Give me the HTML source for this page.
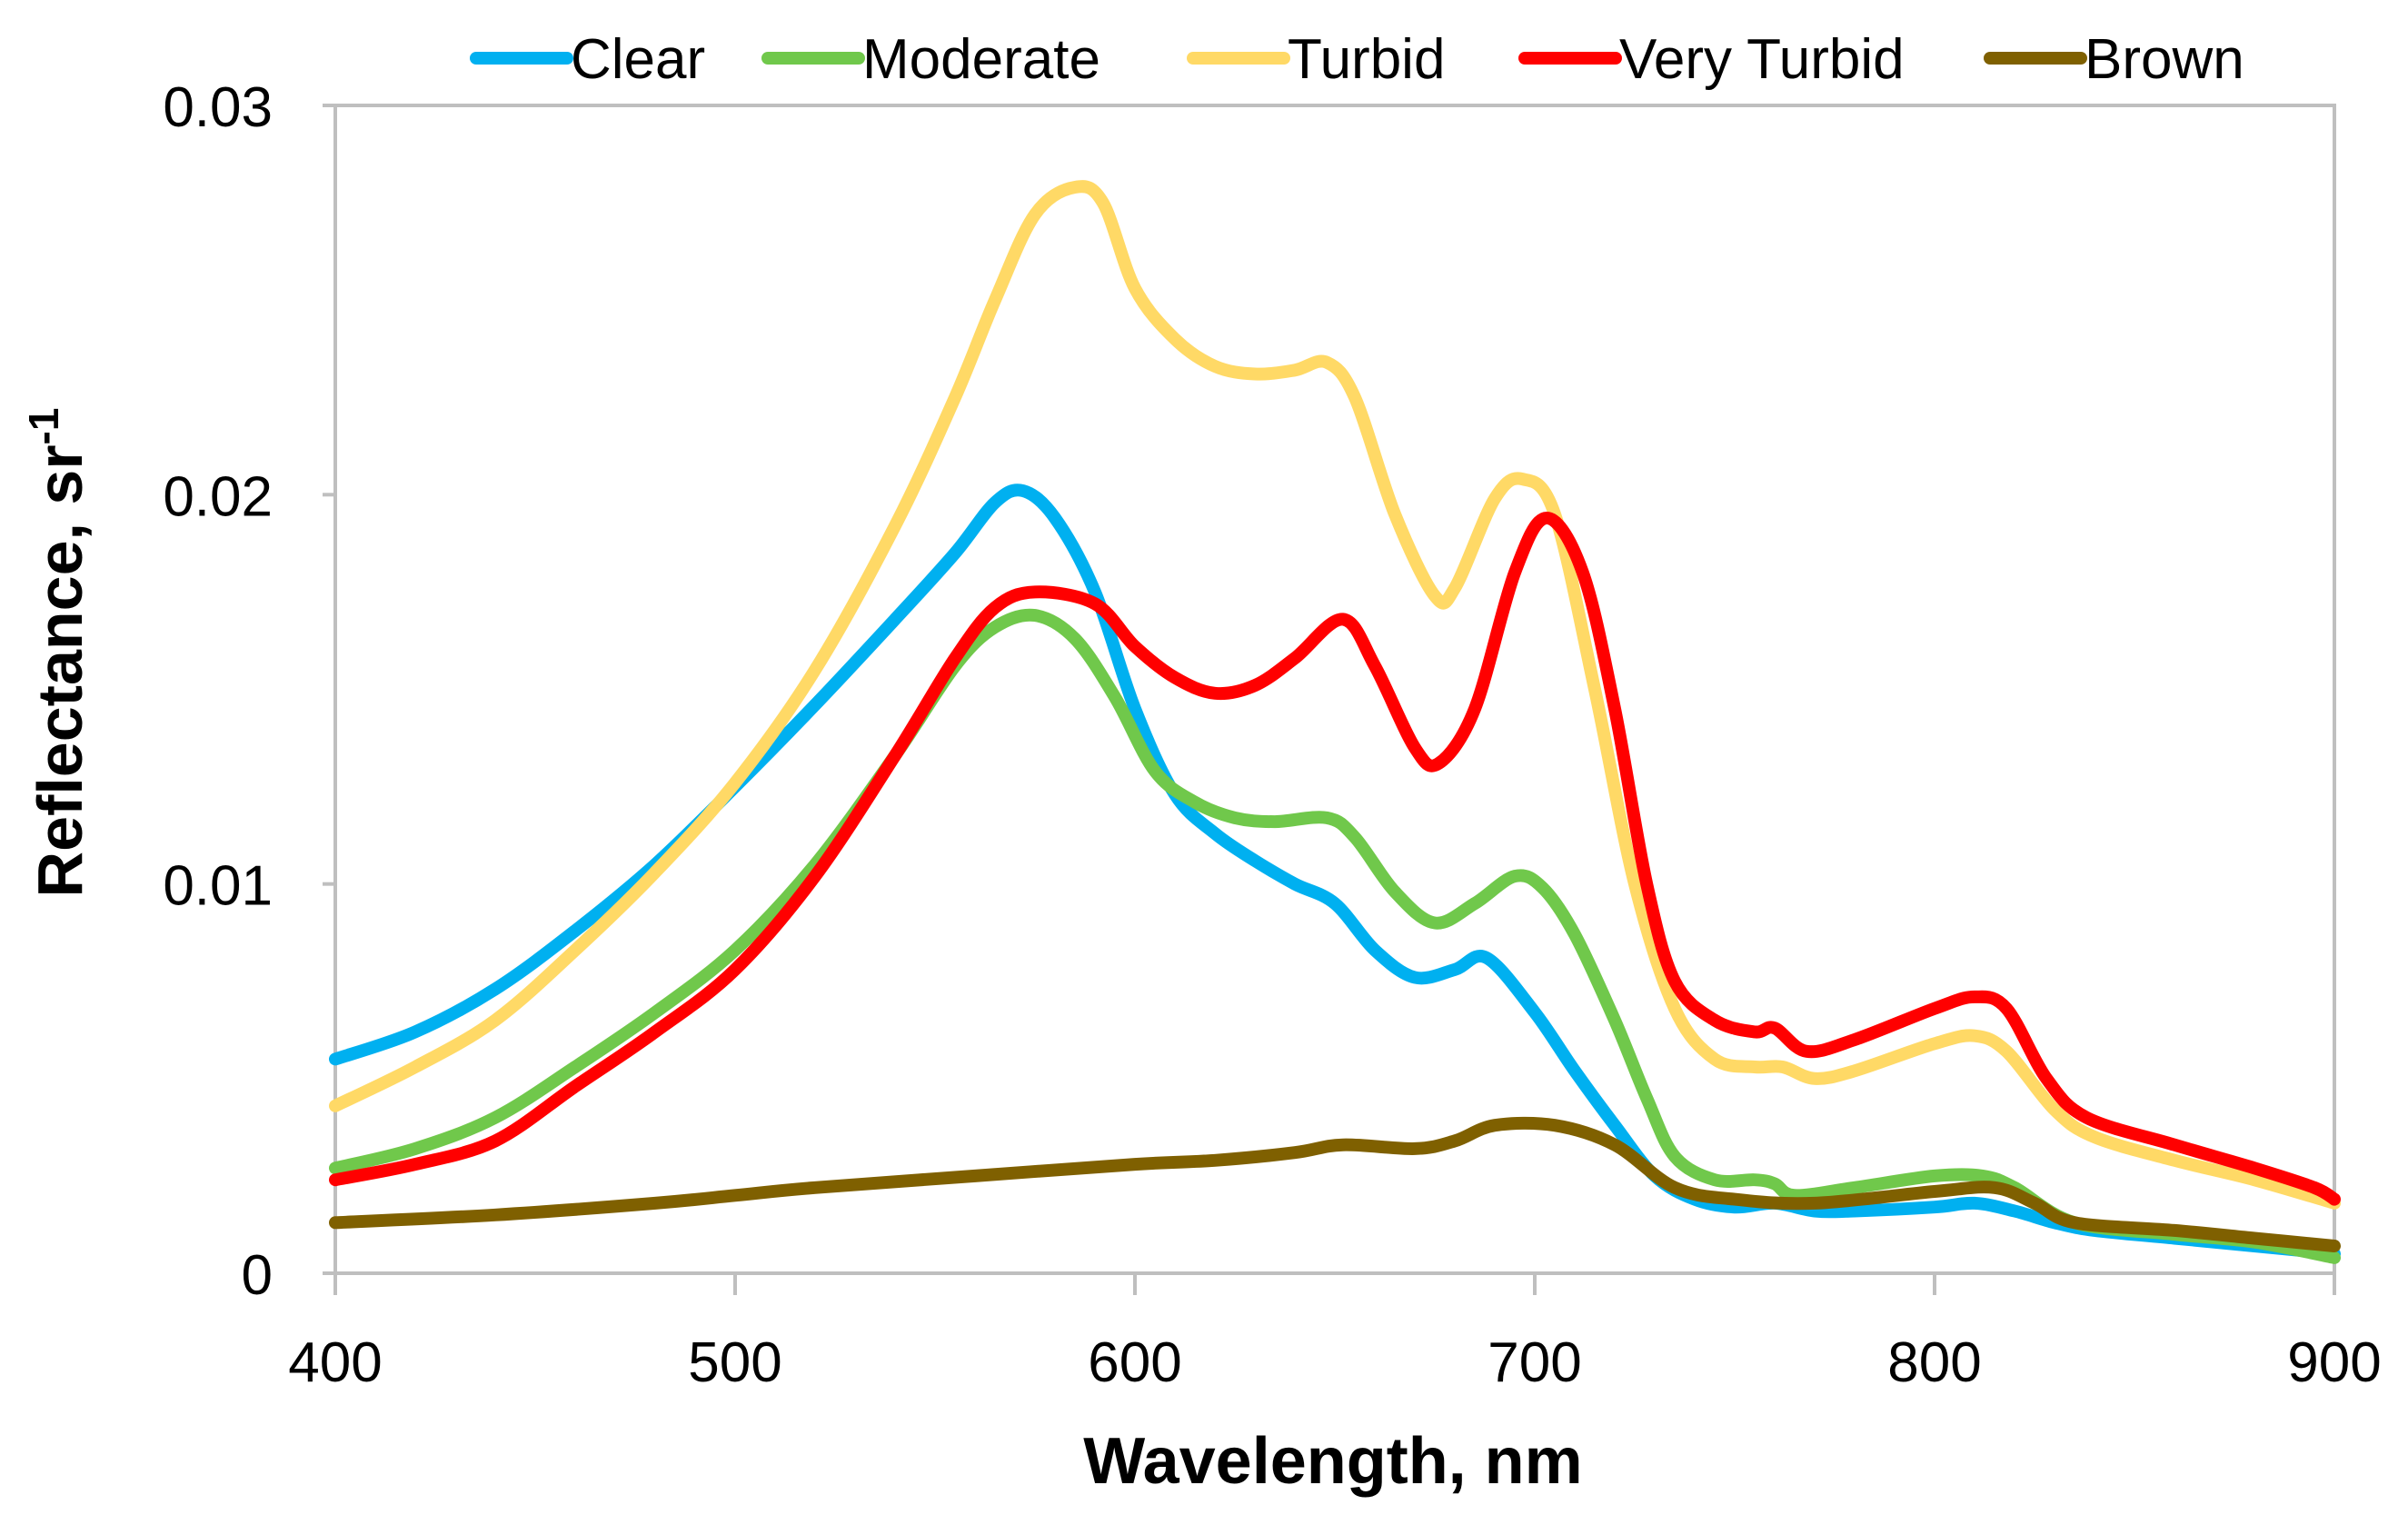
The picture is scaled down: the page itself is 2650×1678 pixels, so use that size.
<!DOCTYPE html>
<html><head><meta charset="utf-8"><style>
html,body{margin:0;padding:0;background:#fff;width:2650px;height:1678px;overflow:hidden}
svg text{font-family:"Liberation Sans",sans-serif;fill:#000}
</style></head><body>
<svg id="chart" width="2650" height="1678" viewBox="0 0 2650 1678" xmlns="http://www.w3.org/2000/svg"></svg>
<script>
const xTicks=[400,500,600,700,800,900];
const yTicks=[0,0.01,0.02,0.03];
const yTickLabels=["0","0.01","0.02","0.03"];
const seriesNames=["Clear","Moderate","Turbid","Very Turbid","Brown"];
const seriesColors=["#00b0f0","#70c84b","#ffd966","#ff0000","#7f6000"];
const clearWl=[400,420,440,460,480,500,520,540,555,565,572,580,590,600,610,620,630,640,650,660,670,680,688,700,710,720,730,740,750,760,770,780,800,810,820,830,840,860,880,900];
const clearVal=[5.5,6.2,7.3,8.8,10.5,12.5,14.6,16.8,18.5,19.8,20.1,19.4,17.5,14.5,12.3,11.3,10.6,10.0,9.5,8.3,7.6,7.8,8.1,6.7,5.2,3.8,2.5,1.9,1.7,1.8,1.6,1.6,1.7,1.8,1.6,1.3,1.1,0.9,0.7,0.5];
const modWl=[400,420,440,460,480,500,520,540,555,565,575,585,595,605,615,625,635,648,655,665,675,685,695,702,710,720,728,735,745,755,760,765,780,800,812,820,835,860,880,900];
const modVal=[2.7,3.2,4.0,5.3,6.7,8.3,10.5,13.3,15.6,16.6,16.9,16.3,14.8,12.9,12.1,11.7,11.6,11.7,11.2,9.8,9.0,9.5,10.2,9.9,8.7,6.5,4.5,3.0,2.4,2.4,2.3,2.0,2.2,2.5,2.5,2.2,1.3,1.0,0.8,0.4];
const turbWl=[400,420,440,460,480,500,520,540,555,565,575,585,592,600,610,620,630,640,648,655,665,675,680,690,697,705,715,725,735,745,755,762,770,780,800,810,818,830,840,860,880,900];
const turbVal=[4.3,5.3,6.5,8.3,10.3,12.6,15.5,19.2,22.5,25.0,27.2,27.9,27.5,25.3,24.0,23.3,23.1,23.2,23.4,22.5,19.5,17.4,17.6,19.9,20.4,19.5,15.0,10.0,6.8,5.5,5.3,5.3,5.0,5.2,5.9,6.1,5.7,4.2,3.5,2.9,2.4,1.8];
const vtWl=[400,420,440,460,480,500,520,540,555,565,575,590,600,610,620,630,640,652,660,670,676,685,695,703,712,720,728,735,745,755,760,768,780,800,810,818,828,838,860,880,895,900];
const vtVal=[2.4,2.8,3.4,4.8,6.2,7.8,10.2,13.3,15.8,17.1,17.5,17.2,16.1,15.3,14.9,15.1,15.8,16.8,15.6,13.5,13.1,14.5,18.0,19.4,18.0,14.5,10.0,7.5,6.5,6.2,6.3,5.7,6.0,6.8,7.1,6.8,5.0,4.0,3.3,2.7,2.2,1.9];
const brWl=[400,440,480,500,520,560,600,620,640,652,670,680,690,705,720,735,750,770,800,815,825,835,860,880,900];
const brVal=[1.3,1.5,1.8,2.0,2.2,2.5,2.8,2.9,3.1,3.3,3.2,3.4,3.8,3.8,3.3,2.2,1.9,1.8,2.1,2.2,1.8,1.3,1.1,0.9,0.7];
const seriesWl=[clearWl,modWl,turbWl,vtWl,brWl];
const seriesVal=[clearVal,modVal,turbVal,vtVal,brVal];

const L=369,R=2569,T=116,B=1401;
const xS=v=>L+(v-400)/500*(R-L);
const yS=v=>B-v/0.03*(B-T);
const NS="http://www.w3.org/2000/svg";
const svg=document.getElementById('chart');
function mk(tag,attrs,parent){const e=document.createElementNS(NS,tag);for(const k in attrs)e.setAttribute(k,attrs[k]);(parent||svg).appendChild(e);return e;}

const frame=mk('rect',{x:L,y:T,width:R-L,height:B-T,fill:'none',stroke:'#bfbfbf','stroke-width':4});



yTicks.forEach((v,i)=>{
  const t=mk('line',{x1:L-14,x2:L,y1:yS(v),y2:yS(v),stroke:'#bfbfbf','stroke-width':4});
  
  
  const tx=mk('text',{x:300,y:yS(v)+23,'text-anchor':'end','font-size':62});
  tx.textContent=yTickLabels[i];
  
  
});
xTicks.forEach(v=>{
  const t=mk('line',{x1:xS(v),x2:xS(v),y1:B,y2:B+24,stroke:'#bfbfbf','stroke-width':4});
  
  
  const tx=mk('text',{x:xS(v),y:1520,'text-anchor':'middle','font-size':62});
  tx.textContent=String(v);
  
  
});

const xt=mk('text',{x:1467,y:1632,'text-anchor':'middle','font-size':72,'font-weight':'bold'});
xt.textContent='Wavelength, nm';



const yt=mk('text',{x:0,y:0,'text-anchor':'middle','font-size':70,'font-weight':'bold',transform:'translate(90,718) rotate(-90)'});
yt.innerHTML='Reflectance, sr<tspan dy="-26" font-size="46">-1</tspan>';



function smoothPath(pts){
  let d='M'+pts[0][0].toFixed(1)+' '+pts[0][1].toFixed(1);
  for(let i=0;i<pts.length-1;i++){
    const p0=pts[Math.max(0,i-1)],p1=pts[i],p2=pts[i+1],p3=pts[Math.min(pts.length-1,i+2)];
    const c1=[p1[0]+(p2[0]-p0[0])/6,p1[1]+(p2[1]-p0[1])/6];
    const c2=[p2[0]-(p3[0]-p1[0])/6,p2[1]-(p3[1]-p1[1])/6];
    d+=' C'+c1[0].toFixed(1)+' '+c1[1].toFixed(1)+' '+c2[0].toFixed(1)+' '+c2[1].toFixed(1)+' '+p2[0].toFixed(1)+' '+p2[1].toFixed(1);
  }
  return d;
}
seriesWl.forEach((wl,s)=>{
  const pts=wl.map((w,i)=>[xS(w),yS(seriesVal[s][i]/1000)]);
  const p=mk('path',{d:smoothPath(pts),fill:'none',stroke:seriesColors[s],'stroke-width':14,'stroke-linejoin':'round','stroke-linecap':'round'});
  
  
});

const legX=[524,845,1313,1678,2190];
seriesNames.forEach((n,s)=>{
  const g=mk('g',{});
  
  
  mk('line',{x1:legX[s],x2:legX[s]+100,y1:64,y2:64,stroke:seriesColors[s],'stroke-width':14,'stroke-linecap':'round'},g);
  const t=mk('text',{x:legX[s]+104,y:86,'font-size':62},g);
  t.textContent=n;
});
</script>
</body></html>
